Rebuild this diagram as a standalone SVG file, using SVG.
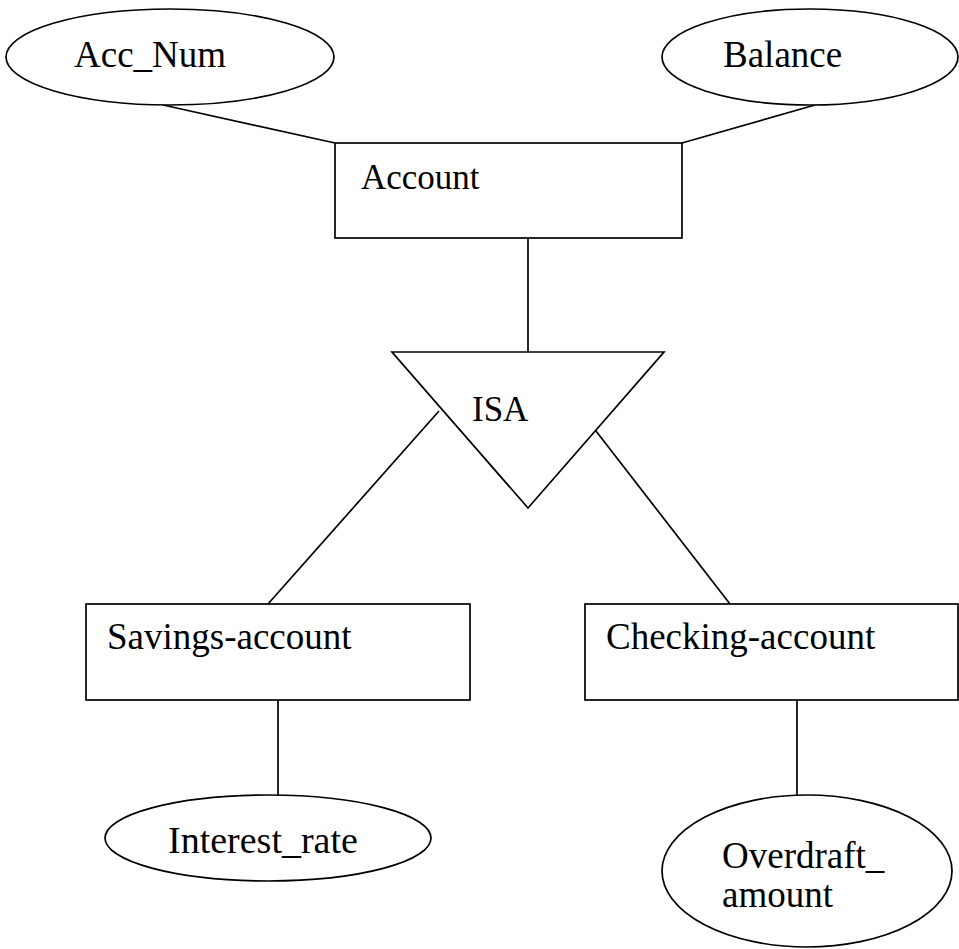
<svg xmlns="http://www.w3.org/2000/svg" width="959" height="949" viewBox="0 0 959 949">
  <style>
    .shape { fill: #ffffff; stroke: #000000; stroke-width: 1.7; }
    .link { fill: none; stroke: #000000; stroke-width: 1.7; }
    .label { font-family: "Liberation Serif", "Times New Roman", serif; font-size: 37px; fill: #000000; }
  </style>
  <rect x="0" y="0" width="959" height="949" fill="#ffffff"/>

  <!-- connectors -->
  <g id="connectors">
    <line class="link" x1="163" y1="105" x2="335" y2="143"/>
    <line class="link" x1="815" y1="105" x2="682" y2="143"/>
    <line class="link" x1="528" y1="238" x2="528" y2="352"/>
    <line class="link" x1="439" y1="411" x2="268" y2="604"/>
    <line class="link" x1="596" y1="431" x2="730" y2="604"/>
    <line class="link" x1="278" y1="700" x2="278" y2="795"/>
    <line class="link" x1="797" y1="700" x2="797" y2="795"/>
  </g>

  <!-- attribute: Acc_Num -->
  <g id="acc-num">
    <ellipse class="shape" cx="170" cy="57" rx="164" ry="48"/>
    <text class="label" x="74" y="67">Acc_Num</text>
  </g>

  <!-- attribute: Balance -->
  <g id="balance">
    <ellipse class="shape" cx="810" cy="57" rx="148" ry="48"/>
    <text class="label" x="723" y="67">Balance</text>
  </g>

  <!-- entity: Account -->
  <g id="account">
    <rect class="shape" x="335" y="143" width="347" height="95"/>
    <text class="label" x="361" y="189" style="font-size:35px">Account</text>
  </g>

  <!-- ISA triangle -->
  <g id="isa">
    <polygon class="shape" points="392,352 664,352 528,508"/>
    <text class="label" x="472" y="421" style="font-size:35px">ISA</text>
  </g>

  <!-- entity: Savings-account -->
  <g id="savings-account">
    <rect class="shape" x="86" y="604" width="384" height="96"/>
    <text class="label" x="107" y="649">Savings-account</text>
  </g>

  <!-- entity: Checking-account -->
  <g id="checking-account">
    <rect class="shape" x="585" y="604" width="373" height="96"/>
    <text class="label" x="606" y="649">Checking-account</text>
  </g>

  <!-- attribute: Interest_rate -->
  <g id="interest-rate">
    <ellipse class="shape" cx="268" cy="838" rx="163" ry="43"/>
    <text class="label" x="168" y="853" style="font-size:38px">Interest_rate</text>
  </g>

  <!-- attribute: Overdraft_amount -->
  <g id="overdraft-amount">
    <ellipse class="shape" cx="807" cy="871" rx="145" ry="76"/>
    <text class="label" x="722" y="868">Overdraft_</text>
    <text class="label" x="722" y="907">amount</text>
  </g>
</svg>
